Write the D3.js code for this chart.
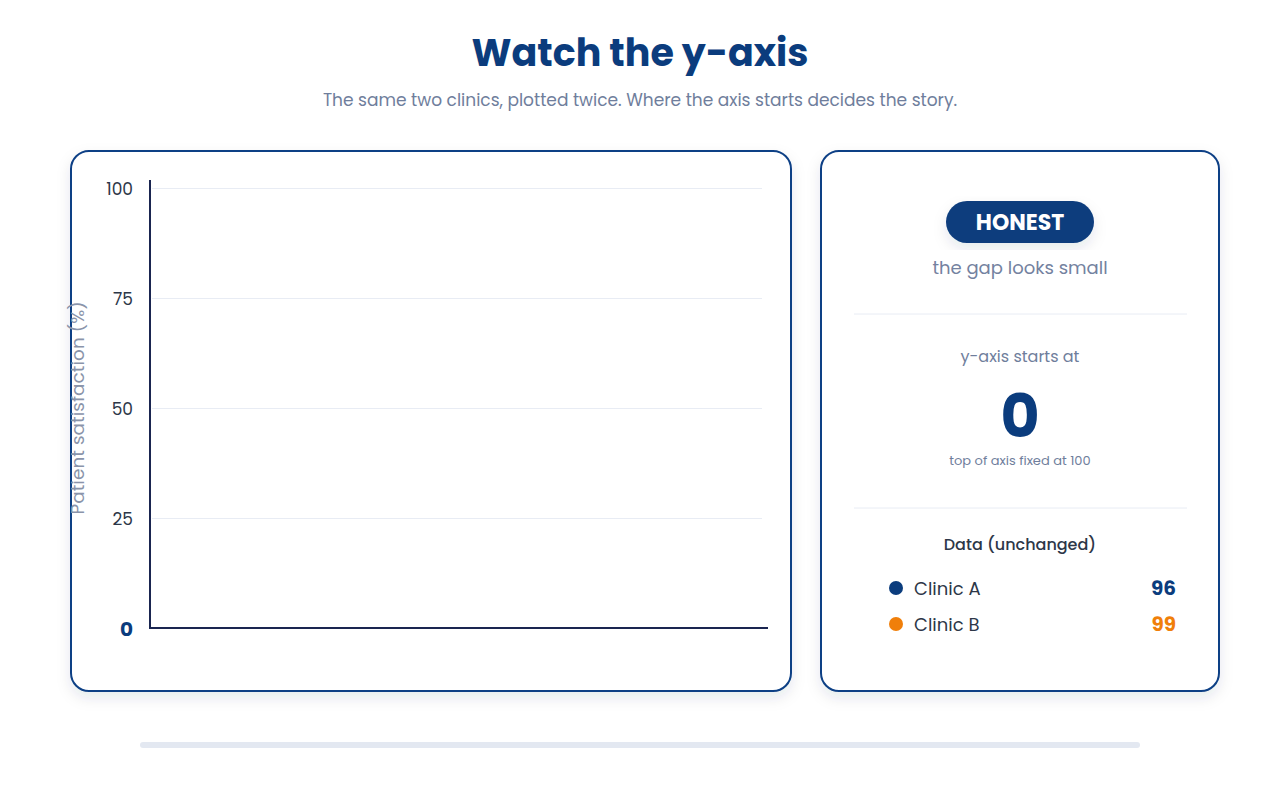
<!DOCTYPE html>
<html>
<head>
<meta charset="utf-8">
<script src="https://cdn.jsdelivr.net/npm/d3@7"></script>
<style>
  html, body { margin: 0; padding: 0; background: #ffffff; }
  svg { display: block; font-family: Poppins, Inter, "Noto Sans", sans-serif; }
</style>
</head>
<body>
<svg id="chart" width="1280" height="800"></svg>
<script>
// data
var clinics = ["Clinic A", "Clinic B"];
var satisfaction = [96, 99];
var clinicColors = ["#0b3c7d", "#f07f0a"];
var yTicks = [0, 25, 50, 75, 100];
var axisStart = 0;
var axisTop = 100;
var modeLabel = "HONEST";
var modeNote = "the gap looks small";

var NAVY = "#0b3c7d";
var INK = "#2d3748";
var MUTED = "#6f7e9c";
var RULE = "#e8ecf4";

var svg = d3.select("#chart");

var defs = svg.append("defs");
var shadow = defs.append("filter")
    .attr("id", "cardShadow")
    .attr("x", "-10%").attr("y", "-10%")
    .attr("width", "120%").attr("height", "125%");
shadow.append("feDropShadow")
    .attr("dx", 0).attr("dy", 6)
    .attr("stdDeviation", 7)
    .attr("flood-color", "#1a2550")
    .attr("flood-opacity", 0.10);

// header
svg.append("text")
    .attr("x", 640).attr("y", 66)
    .attr("text-anchor", "middle")
    .attr("font-size", 38)
    .attr("font-weight", 700)
    .attr("fill", NAVY)
    .text("Watch the y-axis");

svg.append("text")
    .attr("x", 640).attr("y", 106)
    .attr("text-anchor", "middle")
    .attr("font-size", 17)
    .attr("fill", MUTED)
    .text("The same two clinics, plotted twice. Where the axis starts decides the story.");

// cards
function card(x, y, w, h) {
    svg.append("rect")
        .attr("x", x).attr("y", y)
        .attr("width", w).attr("height", h)
        .attr("rx", 18)
        .attr("fill", "#ffffff")
        .attr("stroke", "#0d3f85")
        .attr("stroke-width", 2)
        .attr("filter", "url(#cardShadow)");
}
card(71, 151, 720, 540);
card(821, 151, 398, 540);

// chart panel
var plot = { left: 150, right: 768, top: 188, bottom: 628 };

var x = d3.scaleBand()
    .domain(clinics)
    .range([plot.left, plot.right])
    .padding(0.35);

var y = d3.scaleLinear()
    .domain([axisStart, axisTop])
    .range([plot.bottom, plot.top]);

var g = svg.append("g");

// gridlines
var grid = g.append("g")
    .attr("transform", "translate(" + plot.left + ",0)")
    .call(d3.axisLeft(y)
        .tickValues(yTicks.filter(function(d){ return d > axisStart; }))
        .tickSize(-(plot.right - plot.left - 8))
        .tickFormat(""));
grid.select(".domain").remove();
grid.selectAll(".tick line")
    .attr("stroke", RULE)
    .attr("stroke-width", 1)
    .attr("transform", "translate(2,0)");

// tick labels
var yAxis = g.append("g")
    .attr("transform", "translate(" + (plot.left - 17) + ",0)")
    .call(d3.axisLeft(y).tickValues(yTicks).tickSize(0).tickPadding(0));
yAxis.select(".domain").remove();
yAxis.selectAll(".tick text")
    .attr("font-family", "Poppins, Inter, 'Noto Sans', sans-serif")
    .attr("font-size", 17)
    .attr("fill", INK)
    .attr("dy", "0.36em");
yAxis.selectAll(".tick text")
    .filter(function(d){ return d === axisStart; })
    .attr("font-size", 20)
    .attr("font-weight", 700)
    .attr("fill", NAVY);

// axis lines
g.append("line")
    .attr("x1", plot.left).attr("x2", plot.left)
    .attr("y1", 180).attr("y2", plot.bottom + 1)
    .attr("stroke", "#1a2550").attr("stroke-width", 2);
g.append("line")
    .attr("x1", plot.left - 1).attr("x2", plot.right)
    .attr("y1", plot.bottom).attr("y2", plot.bottom)
    .attr("stroke", "#1a2550").attr("stroke-width", 2);

// y axis title
g.append("text")
    .attr("transform", "translate(84," + ((plot.top + plot.bottom) / 2) + ") rotate(-90)")
    .attr("text-anchor", "middle")
    .attr("font-size", 18.5)
    .attr("fill", "#8a94aa")
    .text("Patient satisfaction (%)");

// side panel
var cx = 1020;
var side = svg.append("g");

side.append("rect")
    .attr("x", cx - 74).attr("y", 201)
    .attr("width", 148).attr("height", 42)
    .attr("rx", 21)
    .attr("fill", NAVY)
    .attr("filter", "url(#cardShadow)");
side.append("text")
    .attr("x", cx).attr("y", 230)
    .attr("text-anchor", "middle")
    .attr("font-size", 22)
    .attr("font-weight", 700)
    .attr("fill", "#ffffff")
    .text(modeLabel);

side.append("text")
    .attr("x", cx).attr("y", 274)
    .attr("text-anchor", "middle")
    .attr("font-size", 18)
    .attr("fill", "#7482a0")
    .text(modeNote);

[314, 508].forEach(function(yy) {
    side.append("line")
        .attr("x1", 854).attr("x2", 1187)
        .attr("y1", yy).attr("y2", yy)
        .attr("stroke", RULE).attr("stroke-width", 1);
});

side.append("text")
    .attr("x", cx).attr("y", 362)
    .attr("text-anchor", "middle")
    .attr("font-size", 16)
    .attr("fill", MUTED)
    .text("y-axis starts at");

side.append("text")
    .attr("x", cx).attr("y", 437)
    .attr("text-anchor", "middle")
    .attr("font-size", 60)
    .attr("font-weight", 700)
    .attr("fill", NAVY)
    .text(axisStart);

side.append("text")
    .attr("x", cx).attr("y", 465)
    .attr("text-anchor", "middle")
    .attr("font-size", 13)
    .attr("fill", MUTED)
    .text("top of axis fixed at " + axisTop);

side.append("text")
    .attr("x", cx).attr("y", 550)
    .attr("text-anchor", "middle")
    .attr("font-size", 16)
    .attr("font-weight", 500)
    .attr("fill", INK)
    .text("Data (unchanged)");

var rowY = d3.scalePoint().domain(clinics).range([588, 624]);

var rows = side.selectAll(".row")
    .data(clinics)
    .enter().append("g")
    .attr("class", "row")
    .attr("transform", function(d){ return "translate(0," + rowY(d) + ")"; });

rows.append("circle")
    .attr("cx", 896).attr("cy", 0).attr("r", 7)
    .attr("fill", function(d, i){ return clinicColors[i]; });
rows.append("text")
    .attr("x", 914).attr("y", 7)
    .attr("font-size", 18)
    .attr("fill", INK)
    .text(function(d){ return d; });
rows.append("text")
    .attr("x", 1176).attr("y", 7)
    .attr("text-anchor", "end")
    .attr("font-size", 20)
    .attr("font-weight", 700)
    .attr("fill", function(d, i){ return clinicColors[i]; })
    .text(function(d, i){ return satisfaction[i]; });

// progress track
svg.append("rect")
    .attr("x", 140).attr("y", 742)
    .attr("width", 1000).attr("height", 6)
    .attr("rx", 3)
    .attr("fill", "#e3e8f1");
</script>
</body>
</html>
